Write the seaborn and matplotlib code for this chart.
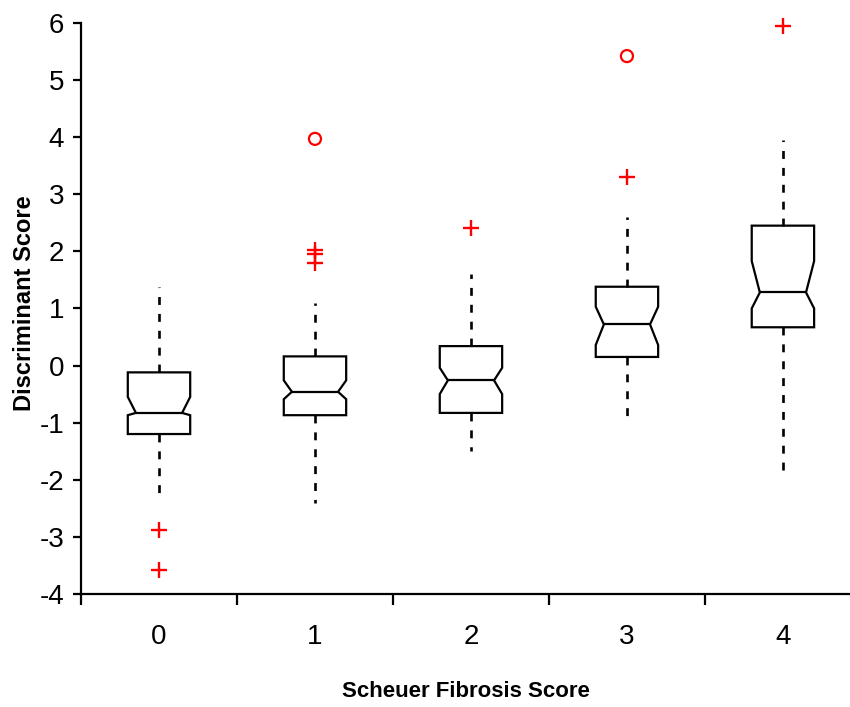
#!/usr/bin/env python3

# Notched box plots of discriminant score per Scheuer fibrosis grade

import numpy as np
import pandas as pd
import matplotlib
matplotlib.use("Agg")
import matplotlib.pyplot as plt
import seaborn as sns
from matplotlib.path import Path
from matplotlib.ticker import FixedLocator

# summary values
groups = [0, 1, 2, 3, 4]
whisker_low = [-2.35, -2.40, -1.50, -0.93, -1.97]
q1 = [-1.20, -0.87, -0.83, 0.15, 0.67]
median = [-0.83, -0.46, -0.26, 0.72, 1.28]
q3 = [-0.12, 0.16, 0.34, 1.38, 2.45]
whisker_high = [1.38, 1.10, 1.60, 2.60, 3.95]
notch_low = [-0.87, -0.59, -0.50, 0.36, 1.00]
notch_high = [-0.55, -0.26, -0.04, 1.03, 1.83]

# outliers: "+" and "o" marks
plus_group = [0, 0, 1, 1, 1, 2, 3, 4]
plus_value = [-2.88, -3.58, 2.02, 1.96, 1.79, 2.41, 3.30, 5.95]
circle_group = [1, 3]
circle_value = [3.97, 5.42]

BOX_W = 0.40
LW = 1.6

sns.set_style("ticks", {"axes.edgecolor": "black", "text.color": "black",
                        "xtick.color": "black", "ytick.color": "black",
                        "axes.labelcolor": "black"})
plt.rcParams["font.family"] = ["Liberation Sans", "DejaVu Sans"]
plt.rcParams["axes.unicode_minus"] = False


def main():
    # five values per group reproduce the quartiles exactly
    rows = []
    for i, g in enumerate(groups):
        for v in (whisker_low[i], q1[i], median[i], q3[i], whisker_high[i]):
            rows.append({"Score": g, "Value": v})
    df = pd.DataFrame(rows)

    fig = plt.figure(figsize=(8.5, 7.07), dpi=100)
    ax = fig.add_axes([0.0953, 0.160, 0.9047, 0.8075])

    sns.boxplot(data=df, x="Score", y="Value", ax=ax, width=BOX_W, notch=True,
                whis=(0, 100), showfliers=False, showcaps=False,
                color="white", linecolor="black", linewidth=LW,
                whiskerprops=dict(linestyle=(0, (3.0, 3.4)), linewidth=1.9),
                medianprops=dict(linewidth=LW, color="black"))

    # notch shape like the original: shallow inset, own confidence limits
    for i, patch in enumerate(ax.patches[:len(groups)]):
        p = patch.get_path()
        v = p.vertices.copy()
        if len(v) < 11:
            continue
        pos = (v[0, 0] + v[1, 0]) / 2
        half = abs(v[1, 0] - v[0, 0]) / 2
        v[[2, 9], 1] = notch_low[i]
        v[[4, 7], 1] = notch_high[i]
        v[3, 0] = pos + 0.74 * half
        v[8, 0] = pos - 0.74 * half
        new_path = Path(v, p.codes)
        try:
            patch.set_path(new_path)
        except AttributeError:
            patch._path = new_path
    for line in ax.lines:
        x, y = line.get_data()
        x = np.asarray(x, dtype=float)
        y = np.asarray(y, dtype=float)
        if len(x) == 2 and y[0] == y[1] and x[0] != x[1]:
            c = x.mean()
            half = BOX_W / 2
            line.set_xdata([c - 0.74 * half, c + 0.74 * half])

    sns.scatterplot(x=plus_group, y=plus_value, ax=ax, marker="+", s=140,
                    color="red", linewidth=1.7, zorder=5, clip_on=False)
    sns.scatterplot(x=circle_group, y=circle_value, ax=ax, marker="o", s=75,
                    facecolor="none", edgecolor="red", linewidth=1.6, zorder=5,
                    clip_on=False)

    ax.set_xlim(-0.5, 4.43)
    ax.set_ylim(-4, 6)
    ax.set_yticks(range(-4, 7))
    ax.set_xticks(groups)
    ax.set_xticklabels([str(g) for g in groups])
    ax.xaxis.set_minor_locator(FixedLocator([-0.5, 0.5, 1.5, 2.5, 3.5]))
    ax.tick_params(axis="x", which="major", length=0, pad=22, labelsize=20)
    ax.tick_params(axis="x", which="minor", length=8, width=LW, direction="out")
    ax.tick_params(axis="y", length=6, width=LW, pad=6, labelsize=20)
    for s in ("left", "bottom"):
        ax.spines[s].set_linewidth(LW)
    sns.despine(ax=ax)

    ax.set_xlabel("Scheuer Fibrosis Score", fontsize=16, fontweight="bold", labelpad=22)
    ax.set_ylabel("Discriminant Score", fontsize=17, fontweight="bold")
    ax.yaxis.set_label_coords(-0.058, 0.51)

    fig.savefig("out.png", dpi=100)


if __name__ == "__main__":
    main()
